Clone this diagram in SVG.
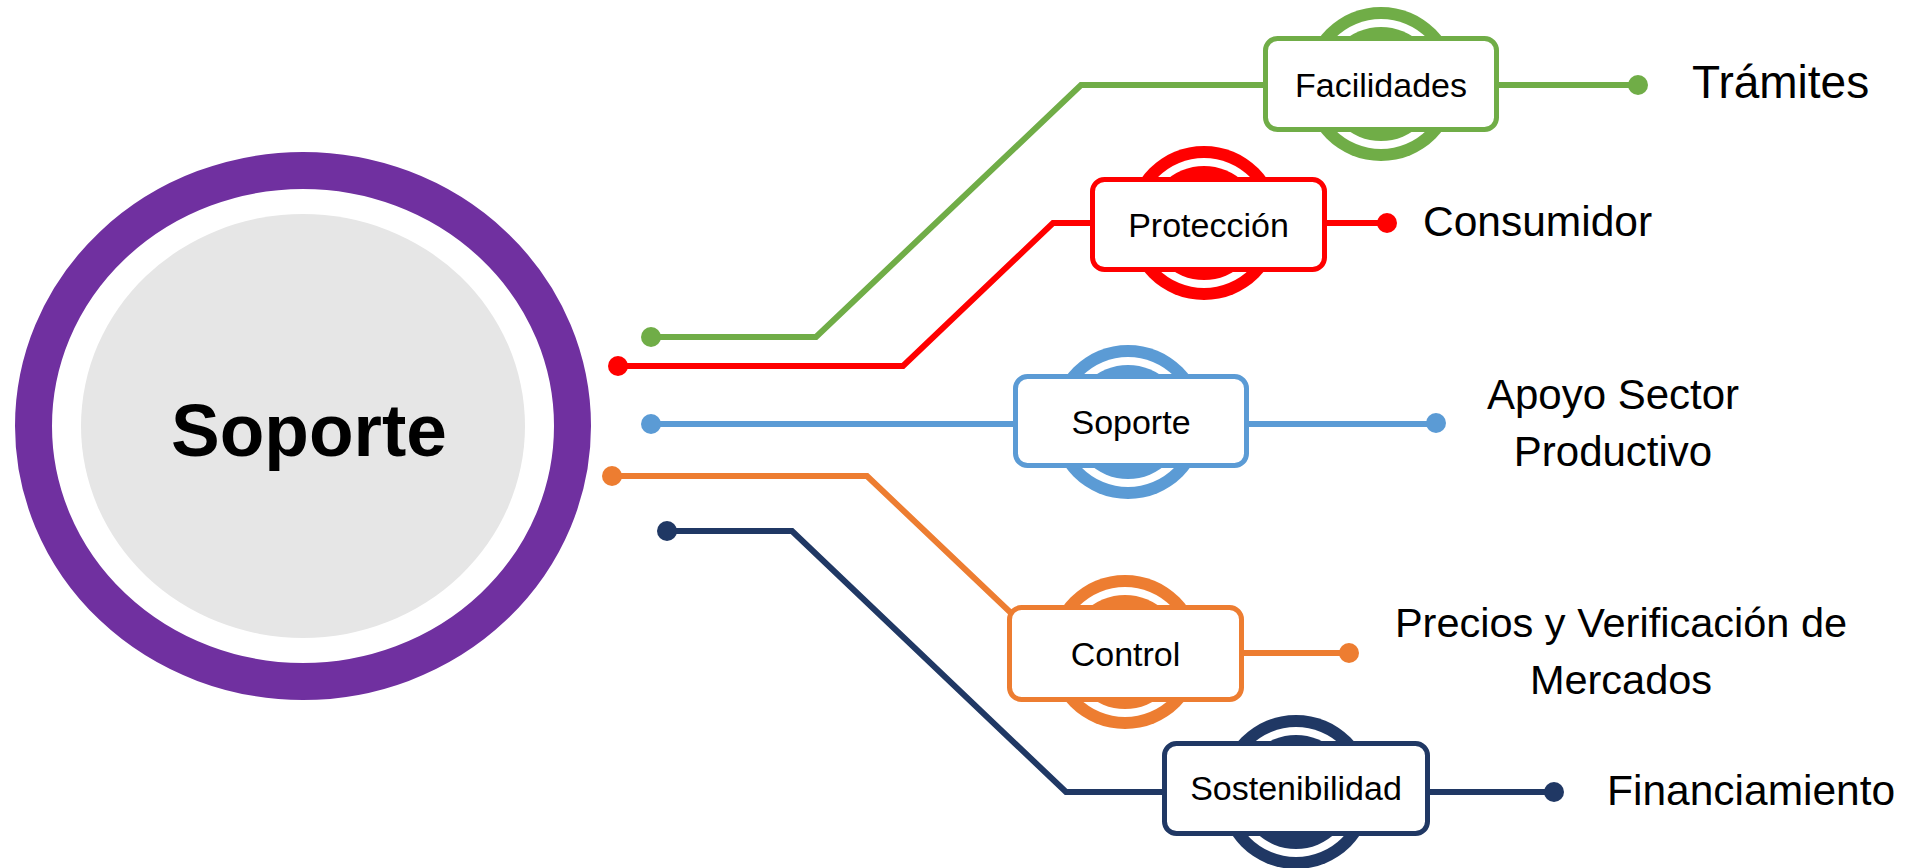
<svg xmlns="http://www.w3.org/2000/svg" width="1913" height="868" viewBox="0 0 1913 868">
<style>
.lbl{font-family:"Liberation Sans",Arial,sans-serif;fill:#000}
.nt{font-family:"Liberation Sans",Arial,sans-serif;font-size:34px;fill:#000;text-anchor:middle}
.box{fill:#fff;stroke-width:5}
.con{fill:none;stroke-width:6;stroke-linejoin:miter}
.g{stroke:#70AD47}.gf{fill:#70AD47}
.r{stroke:#FF0000}.rf{fill:#FF0000}
.b{stroke:#5B9BD5}.bf{fill:#5B9BD5}
.o{stroke:#ED7D31}.of{fill:#ED7D31}
.n{stroke:#203864}.nf{fill:#203864}
</style>
<defs>
<g id="badge">
<circle r="77"/>
<circle r="65" fill="#fff"/>
<circle r="57"/>
</g>
</defs>
<rect width="1913" height="868" fill="#fff"/>

<g id="central">
<ellipse cx="303" cy="426" rx="269.5" ry="255.5" fill="#fff" stroke="#7030A0" stroke-width="37"/>
<ellipse cx="303" cy="426" rx="222" ry="212" fill="#E6E6E6"/>
<text x="309" y="456" class="lbl" font-size="75" font-weight="bold" text-anchor="middle" textLength="276" lengthAdjust="spacingAndGlyphs">Soporte</text>
</g>

<g id="connectors">
<path class="con g" d="M651,337 H816 L1081,85 H1638"/>
<circle class="gf" cx="651" cy="337" r="10"/><circle class="gf" cx="1638" cy="85" r="10"/>
<path class="con r" d="M618,366 H903 L1053,223 H1387"/>
<circle class="rf" cx="618" cy="366" r="10"/><circle class="rf" cx="1387" cy="223" r="10"/>
<path class="con b" d="M651,424 H1436"/>
<circle class="bf" cx="651" cy="424" r="10"/><circle class="bf" cx="1436" cy="423" r="10"/>
<path class="con o" d="M612,476 H867 L1053,653 H1349"/>
<circle class="of" cx="612" cy="476" r="10"/><circle class="of" cx="1349" cy="653" r="10"/>
<path class="con n" d="M667,531 H792 L1066,792 H1554"/>
<circle class="nf" cx="667" cy="531" r="10"/><circle class="nf" cx="1554" cy="792" r="10"/>
</g>

<g id="node-facilidades">
<use href="#badge" x="1381" y="84" class="gf"/>
<rect class="box g" x="1265.5" y="38.5" width="231" height="91" rx="12"/>
<text class="nt" x="1381" y="97" font-size="32">Facilidades</text>
</g>
<g id="node-proteccion">
<use href="#badge" x="1204" y="223" class="rf"/>
<rect class="box r" x="1092.5" y="179.5" width="232" height="90" rx="12"/>
<text class="nt" x="1208.5" y="237">Protección</text>
</g>
<g id="node-soporte">
<use href="#badge" x="1128" y="422" class="bf"/>
<rect class="box b" x="1015.5" y="376.5" width="231" height="89" rx="12"/>
<text class="nt" x="1131" y="434">Soporte</text>
</g>
<g id="node-control">
<use href="#badge" x="1125" y="652" class="of"/>
<rect class="box o" x="1009.5" y="607.5" width="232" height="92" rx="12"/>
<text class="nt" x="1125.5" y="666">Control</text>
</g>
<g id="node-sostenibilidad">
<use href="#badge" x="1296" y="792" class="nf"/>
<rect class="box n" x="1164.5" y="743.5" width="263" height="90" rx="12"/>
<text class="nt" x="1296" y="800">Sostenibilidad</text>
</g>

<g id="labels">
<text class="lbl" x="1692" y="98" font-size="46">Trámites</text>
<text class="lbl" x="1423" y="236" font-size="42.5">Consumidor</text>
<text class="lbl" x="1613" y="409" font-size="42" text-anchor="middle">Apoyo Sector</text>
<text class="lbl" x="1613" y="466" font-size="42" text-anchor="middle">Productivo</text>
<text class="lbl" x="1621" y="637" font-size="41.5" text-anchor="middle">Precios y Verificación de</text>
<text class="lbl" x="1621" y="694" font-size="41.5" text-anchor="middle">Mercados</text>
<text class="lbl" x="1607" y="805" font-size="42.5">Financiamiento</text>
</g>
</svg>
